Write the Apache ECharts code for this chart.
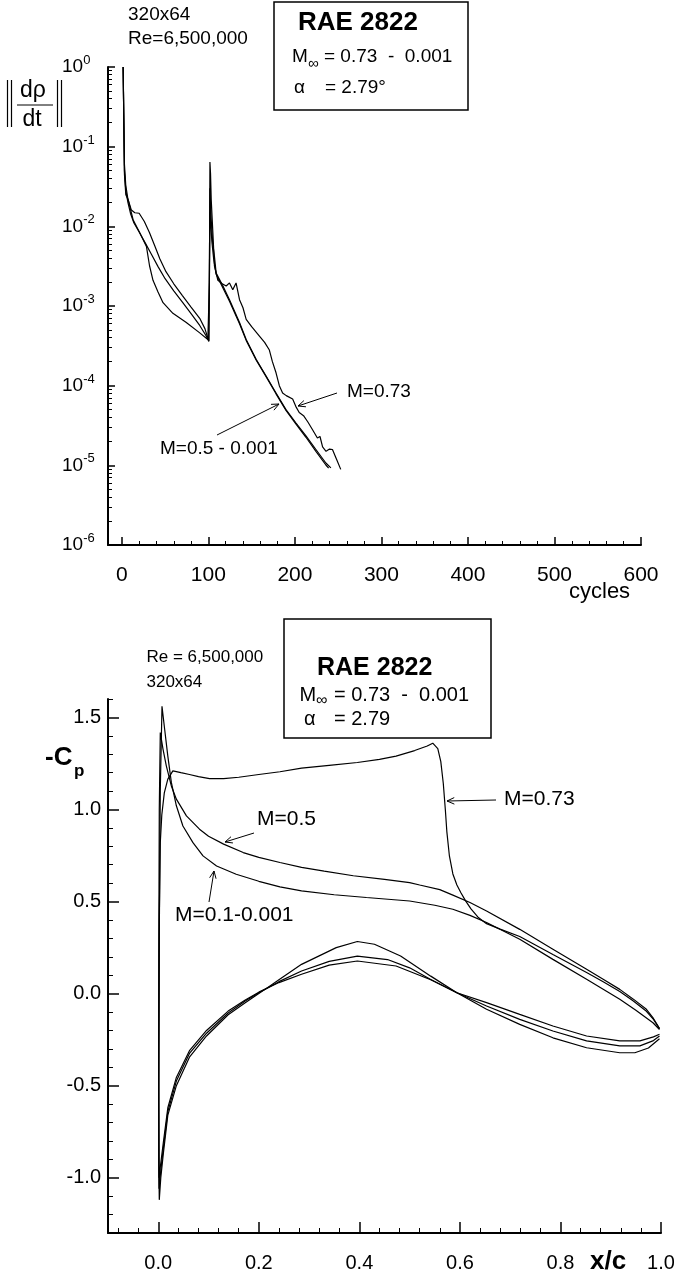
<!DOCTYPE html>
<html>
<head>
<meta charset="utf-8">
<script src="https://cdn.jsdelivr.net/npm/echarts@6/dist/echarts.min.js"></script>
<style>
  html, body { margin: 0; padding: 0; background: #fff; }
  #chart { width: 674px; height: 1274px; }
</style>
</head>
<body>
<div id="chart"></div>
<script>
const FONT = '"Liberation Sans", Arial, Helvetica, sans-serif';

// ---- Convergence history: [cycle, ||dρ/dt||] ----
const residualM073 = [
  [1.5, 1.0], [3, 0.06], [4.5, 0.033], [7, 0.022], [11, 0.016], [15, 0.0148], [20, 0.0146],
  [26, 0.0115], [32, 0.0083], [38, 0.0057], [44, 0.0039], [51, 0.0027], [60, 0.0019],
  [70, 0.00135], [80, 0.00097], [90, 0.0007], [96, 0.00052], [100.5, 0.00036],
  [101.2, 0.002], [101.8, 0.064], [102.5, 0.046], [103.3, 0.0215], [105.2, 0.0083],
  [107, 0.0032], [111, 0.0021], [116, 0.0019], [120.6, 0.00178], [124.4, 0.00195],
  [128.2, 0.0016], [132, 0.00195], [136, 0.0012], [140, 0.00095], [143.7, 0.00068],
  [150, 0.00055], [159, 0.00042], [165, 0.00035], [170.5, 0.00028], [174, 0.0002],
  [178.2, 0.000145], [182, 0.0001], [185.8, 0.000081], [190, 0.000075], [197.4, 0.000068],
  [201, 0.000055], [205, 0.000046], [210, 0.000042], [215, 0.000035], [220.4, 0.000028],
  [226, 0.000022], [229, 0.000023], [232, 0.000017], [236, 0.000015], [240, 0.000016],
  [243.4, 0.0000158], [248, 0.000012], [253, 0.0000089]
];
const residualM050 = [
  [1.5, 1.0], [3, 0.05], [4.6, 0.028], [7, 0.02], [10, 0.0145], [14, 0.011], [20, 0.0085],
  [27, 0.0062], [34, 0.0045], [42, 0.0031], [50, 0.0022], [60, 0.00155], [70, 0.00112],
  [80, 0.0008], [90, 0.00057], [97, 0.00043], [100.5, 0.00036],
  [101.2, 0.003], [101.8, 0.03], [102.5, 0.02], [103.3, 0.012], [105, 0.0062], [107, 0.0042],
  [109, 0.0026], [116.7, 0.0018], [124.4, 0.0012], [136, 0.00062], [143.7, 0.00038],
  [155.2, 0.000214], [166.7, 0.000132], [178.2, 0.000081], [189.7, 0.00005],
  [201.3, 0.000034], [212.8, 0.0000234], [224.3, 0.0000158], [235.8, 0.0000107],
  [241.6, 0.0000093]
];
const residualM0001 = [
  [1.5, 1.0], [3, 0.045], [4.6, 0.025], [7.3, 0.0215], [13, 0.0121], [20.7, 0.0083],
  [28.4, 0.0056], [32, 0.0032], [36, 0.0021], [41.8, 0.0015], [47.6, 0.0011], [59, 0.00081],
  [74.5, 0.00062], [90, 0.00046], [99.4, 0.00038],
  [101.2, 0.002], [101.8, 0.015], [102.5, 0.012], [104, 0.0065], [106, 0.004], [109, 0.0025],
  [116.7, 0.0017], [124.4, 0.00115], [136, 0.0006], [143.7, 0.00037], [155.2, 0.00021],
  [166.7, 0.00013], [178.2, 0.000079], [189.7, 0.000049], [201.3, 0.000033],
  [212.8, 0.0000225], [224.3, 0.000015], [235.8, 0.0000101], [239, 0.0000092]
];
const cycleTicks = [0, 100, 200, 300, 400, 500, 600];
const decadeMultipliers = [2, 3, 4, 5, 6, 7, 8, 9];

// ---- Surface pressure: [x/c, -Cp], upper surface TE -> LE, then lower surface LE -> TE ----
const cpM073 = [
  [0.997, -0.19], [0.985, -0.14], [0.971, -0.096], [0.945, -0.04], [0.918, 0.012], [0.885, 0.065],
  [0.852, 0.115], [0.785, 0.212], [0.719, 0.31], [0.68, 0.35], [0.653, 0.38], [0.636, 0.415],
  [0.622, 0.46], [0.611, 0.505], [0.602, 0.548], [0.594, 0.59], [0.586, 0.65], [0.579, 0.75],
  [0.574, 0.88], [0.571, 1.0], [0.567, 1.14], [0.562, 1.26], [0.556, 1.33], [0.546, 1.36],
  [0.535, 1.345], [0.51, 1.32], [0.473, 1.29], [0.44, 1.272], [0.396, 1.255], [0.34, 1.24],
  [0.285, 1.225], [0.242, 1.205], [0.2, 1.19], [0.16, 1.175], [0.13, 1.168], [0.102, 1.168],
  [0.08, 1.178], [0.062, 1.19], [0.045, 1.2], [0.029, 1.21], [0.019, 1.165], [0.012, 1.09],
  [0.007, 0.97], [0.004, 0.82], [0.002, 0.4], [0.001, -0.3], [0.001, -0.9], [0.002, -1.12],
  [0.005, -1.0], [0.01, -0.87], [0.019, -0.66], [0.036, -0.5], [0.062, -0.345], [0.096, -0.23],
  [0.139, -0.115], [0.173, -0.05], [0.2, 0.0], [0.24, 0.075], [0.285, 0.159], [0.354, 0.25],
  [0.396, 0.283], [0.43, 0.268], [0.482, 0.204], [0.542, 0.095], [0.594, 0.005], [0.653, -0.085],
  [0.719, -0.167], [0.785, -0.24], [0.852, -0.294], [0.918, -0.321], [0.948, -0.321],
  [0.975, -0.295], [0.997, -0.245]
];
const cpM050 = [
  [0.997, -0.19], [0.985, -0.135], [0.971, -0.085], [0.945, -0.03], [0.918, 0.023], [0.885, 0.078],
  [0.852, 0.132], [0.785, 0.241], [0.719, 0.349], [0.653, 0.449], [0.62, 0.495], [0.586, 0.535],
  [0.56, 0.565], [0.52, 0.59], [0.5, 0.603], [0.45, 0.62], [0.388, 0.64], [0.33, 0.665],
  [0.285, 0.686], [0.242, 0.712], [0.2, 0.74], [0.169, 0.766], [0.13, 0.812], [0.1, 0.855],
  [0.082, 0.893], [0.056, 0.965], [0.036, 1.056], [0.026, 1.128], [0.016, 1.237], [0.0094, 1.328],
  [0.004, 1.418], [0.002, 1.0], [0.001, 0.2], [0.0008, -0.6], [0.0015, -1.06],
  [0.005, -0.96], [0.01, -0.84], [0.019, -0.64], [0.036, -0.475], [0.062, -0.325], [0.096, -0.215],
  [0.139, -0.105], [0.173, -0.04], [0.2, 0.005], [0.24, 0.065], [0.285, 0.123], [0.34, 0.175],
  [0.396, 0.204], [0.456, 0.185], [0.5, 0.14], [0.542, 0.077], [0.594, 0.005], [0.653, -0.067],
  [0.719, -0.14], [0.785, -0.203], [0.852, -0.257], [0.918, -0.284], [0.958, -0.284],
  [0.985, -0.255], [0.997, -0.23]
];
const cpM010 = [
  [0.997, -0.195], [0.984, -0.158], [0.95, -0.09], [0.918, -0.031], [0.885, 0.024], [0.852, 0.078],
  [0.785, 0.186], [0.719, 0.295], [0.653, 0.386], [0.62, 0.425], [0.586, 0.458], [0.55, 0.48],
  [0.5, 0.503], [0.414, 0.522], [0.35, 0.537], [0.285, 0.558], [0.242, 0.58], [0.2, 0.61],
  [0.155, 0.648], [0.116, 0.693], [0.089, 0.748], [0.069, 0.82], [0.049, 0.91], [0.036, 1.02],
  [0.026, 1.147], [0.019, 1.29], [0.0127, 1.436], [0.0074, 1.56], [0.004, 1.1], [0.002, 0.3],
  [0.001, -0.5], [0.0015, -1.0],
  [0.005, -0.92], [0.01, -0.81], [0.019, -0.62], [0.036, -0.455], [0.062, -0.31], [0.096, -0.2],
  [0.139, -0.095], [0.173, -0.035], [0.2, 0.008], [0.24, 0.06], [0.285, 0.105], [0.34, 0.155],
  [0.396, 0.177], [0.473, 0.15], [0.542, 0.075], [0.594, 0.005], [0.653, -0.049], [0.719, -0.113],
  [0.785, -0.176], [0.852, -0.23], [0.918, -0.257], [0.958, -0.257], [0.985, -0.235],
  [0.997, -0.221]
];
const xcTicks = [0, 0.2, 0.4, 0.6, 0.8, 1.0];
const cpTicks = [-1.0, -0.5, 0, 0.5, 1.0, 1.5];

// ---- minor tick positions ----
const cycleMinor = [];
for (let c = 20; c < 600; c += 20) if (c % 100) cycleMinor.push(c);
const decadeMinor = [];
for (let e = -6; e < 0; e++) decadeMultipliers.forEach(m => decadeMinor.push(e + Math.log10(m)));
const xcMinor = [];
for (let k = -2; k <= 25; k++) if (k % 5) xcMinor.push(+(k * 0.04).toFixed(2));
const cpMinor = [];
for (let k = -13; k <= 16; k++) if (k % 5) cpMinor.push(+(k * 0.1).toFixed(1));

// ---- shared axis styling ----
const axisLine = { show: true, onZero: false, lineStyle: { color: '#000', width: 2 } };
const noLine = { show: false, onZero: false };
const tickStyle = { color: '#000', width: 1.5 };
const labelBase = { color: '#000', fontFamily: FONT };

function minorAxis(gridIndex, min, max, values, len, position) {
  return {
    gridIndex, type: 'value', min, max, position,
    axisLine: noLine, splitLine: { show: false }, axisLabel: { show: false },
    axisTick: { inside: true, length: len, lineStyle: { color: '#000', width: 1 }, customValues: values }
  };
}

// ---- annotation helpers ----
function text(x, y, str, size, style) {
  return {
    type: 'text', x, y, silent: true,
    style: Object.assign({ text: str, fontSize: size, fontFamily: FONT, fill: '#000',
      align: 'left', verticalAlign: 'middle' }, style || {})
  };
}
function seg(x1, y1, x2, y2, w) {
  return { type: 'line', silent: true, shape: { x1, y1, x2, y2 },
    style: { stroke: '#000', lineWidth: w || 1 } };
}
function arrow(x1, y1, x2, y2) {
  const a = Math.atan2(y1 - y2, x1 - x2), L = 8, s = 0.42;
  return [
    seg(x1, y1, x2, y2),
    seg(x2, y2, x2 + L * Math.cos(a + s), y2 + L * Math.sin(a + s)),
    seg(x2, y2, x2 + L * Math.cos(a - s), y2 + L * Math.sin(a - s))
  ];
}
function box(x, y, w, h) {
  return { type: 'rect', silent: true, shape: { x, y, width: w, height: h },
    style: { fill: 'none', stroke: '#000', lineWidth: 1.5 } };
}

const graphics = [
  // residual plot header
  text(128, 15, '320x64', 19),
  text(128, 39, 'Re=6,500,000', 19),
  box(274, 2, 194, 108),
  text(298, 23, 'RAE 2822', 26, { fontWeight: 'bold' }),
  text(292, 57, 'M', 19),
  text(308, 64, '∞', 15),
  text(324, 57, '= 0.73  -  0.001', 19),
  text(294, 88, 'α', 19),
  text(325, 88, '= 2.79°', 19),
  // y-axis title ||dρ/dt||
  seg(7.5, 80, 7.5, 127, 1.2), seg(11.5, 80, 11.5, 127, 1.2),
  seg(57.5, 80, 57.5, 127, 1.2), seg(61.5, 80, 61.5, 127, 1.2),
  seg(17, 105, 53, 105, 1),
  text(33, 91, 'dρ', 23, { align: 'center' }),
  text(32, 120, 'dt', 23, { align: 'center' }),
  text(569, 592, 'cycles', 22),
  // curve labels
  text(347, 392, 'M=0.73', 19),
  ...arrow(337, 393, 298, 406),
  text(160, 449, 'M=0.5 - 0.001', 19),
  ...arrow(217, 435, 279, 404),

  // pressure plot header
  text(146.5, 657, 'Re = 6,500,000', 17),
  text(146.5, 682, '320x64', 17),
  box(284, 619, 207, 119),
  text(317, 668, 'RAE 2822', 25, { fontWeight: 'bold' }),
  text(299.5, 695, 'M', 20),
  text(316, 701, '∞', 16),
  text(334, 695, '= 0.73  -  0.001', 20),
  text(304, 719, 'α', 20),
  text(334, 719, '= 2.79', 20),
  text(45, 758, '-C', 26, { fontWeight: 'bold' }),
  text(74, 771, 'p', 17, { fontWeight: 'bold' }),
  text(590, 1262, 'x/c', 26, { fontWeight: 'bold' }),
  // curve labels
  text(504, 799, 'M=0.73', 21),
  ...arrow(496, 800, 447, 801),
  text(257, 819, 'M=0.5', 21),
  ...arrow(254, 833, 225, 842),
  text(175, 915, 'M=0.1-0.001', 21),
  ...arrow(209, 902, 214, 871)
];

const lineStyle = { color: '#000', width: 1.2 };
function curve(name, data, xi, yi) {
  return { name, type: 'line', data, xAxisIndex: xi, yAxisIndex: yi, showSymbol: false,
    symbol: 'none', lineStyle, smooth: false, silent: true };
}

const chart = echarts.init(document.getElementById('chart'), null, { renderer: 'canvas' });
chart.setOption({
  animation: false,
  backgroundColor: '#fff',
  grid: [
    { left: 108, top: 67, width: 533, height: 478, containLabel: false, outerBoundsMode: 'none' },
    { left: 108, top: 699, width: 553, height: 534, containLabel: false, outerBoundsMode: 'none' }
  ],
  xAxis: [
    { gridIndex: 0, type: 'value', min: -16, max: 600, position: 'bottom', axisLine,
      splitLine: { show: false },
      axisTick: { inside: true, length: 8, lineStyle: tickStyle, customValues: cycleTicks },
      axisLabel: Object.assign({ customValues: cycleTicks, fontSize: 21, margin: 20 }, labelBase) },
    minorAxis(0, -16, 600, cycleMinor, 4, 'bottom'),
    { gridIndex: 1, type: 'value', min: -0.1, max: 1.0, position: 'bottom', axisLine,
      splitLine: { show: false },
      axisTick: { inside: true, length: 11, lineStyle: tickStyle, customValues: xcTicks },
      axisLabel: Object.assign({ customValues: xcTicks, fontSize: 20, margin: 20,
        formatter: v => v.toFixed(1) }, labelBase) },
    minorAxis(1, -0.1, 1.0, xcMinor, 5, 'bottom')
  ],
  yAxis: [
    { gridIndex: 0, type: 'log', logBase: 10, min: 1e-6, max: 1, interval: 1, position: 'left',
      axisLine, splitLine: { show: false },
      axisTick: { inside: true, length: 7, lineStyle: tickStyle },
      axisLabel: Object.assign({ align: 'left', margin: 46,
        formatter: v => '{b|10}{s|' + Math.round(Math.log10(v)) + '}',
        rich: {
          b: { fontSize: 19, fontFamily: FONT, color: '#000', lineHeight: 26 },
          s: { fontSize: 13, fontFamily: FONT, color: '#000', verticalAlign: 'top', lineHeight: 13 }
        } }, labelBase) },
    minorAxis(0, -6, 0, decadeMinor, 4, 'left'),
    { gridIndex: 1, type: 'value', min: -1.3, max: 1.6, position: 'left', axisLine,
      splitLine: { show: false },
      axisTick: { inside: true, length: 11, lineStyle: tickStyle, customValues: cpTicks },
      axisLabel: Object.assign({ customValues: cpTicks, fontSize: 20, margin: 7,
        formatter: v => v.toFixed(1) }, labelBase) },
    minorAxis(1, -1.3, 1.6, cpMinor, 5, 'left')
  ],
  series: [
    curve('M=0.73', residualM073, 0, 0),
    curve('M=0.5', residualM050, 0, 0),
    curve('M=0.001', residualM0001, 0, 0),
    curve('M=0.73', cpM073, 2, 2),
    curve('M=0.5', cpM050, 2, 2),
    curve('M=0.1-0.001', cpM010, 2, 2)
  ],
  graphic: graphics
});
</script>
</body>
</html>
